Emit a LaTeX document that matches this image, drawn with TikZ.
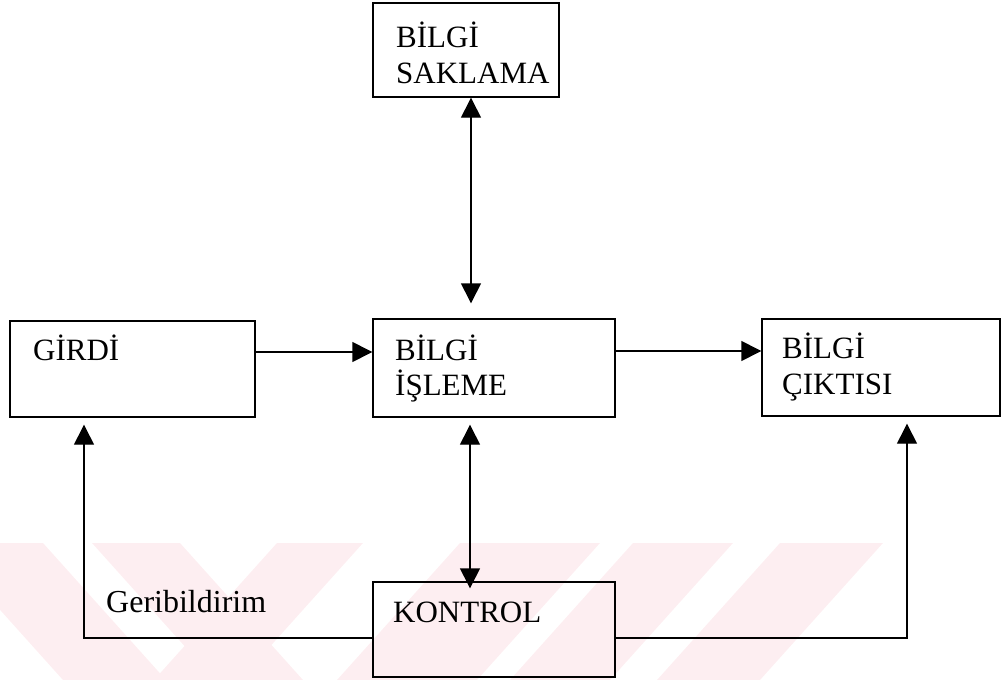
\documentclass[tikz,border=0pt]{standalone}
\usepackage{fontspec}
\setmainfont{Liberation Serif}
\usetikzlibrary{arrows.meta}
\definecolor{markpink}{RGB}{253,238,241}
\begin{document}
\begin{tikzpicture}[x=1pt,y=-1pt,
  box/.style={draw, line width=1.4pt, inner sep=0pt},
  lbl/.style={anchor=base west, inner sep=0pt, font=\fontsize{31}{36}\selectfont},
  tip/.tip={Triangle[length=20pt,width=20pt]},
  link/.style={line width=1.4pt, -tip},
  biline/.style={line width=1.4pt, tip-tip},
  band/.style={fill=markpink, draw=none}]
\useasboundingbox (0,0) rectangle (1002,680);

% faint diagonal stripes along the lower edge
\begin{scope}
  \clip (0,543) rectangle (1002,680);
  \fill[band] (-60,543) -- (43,543) -- (166,680) -- (63,680) -- cycle;
  \fill[band] (92,543) -- (180,543) -- (303,680) -- (215,680) -- cycle;
  \fill[band] (277,543) -- (363,543) -- (240,680) -- (154,680) -- cycle;
  \fill[band] (460,543) -- (600,543) -- (477,680) -- (337,680) -- cycle;
  \fill[band] (633,543) -- (733,543) -- (610,680) -- (510,680) -- cycle;
  \fill[band] (780,543) -- (883,543) -- (760,680) -- (657,680) -- cycle;
\end{scope}

% boxes
\node[box, minimum width=186pt, minimum height=94pt] (store) at (466,50) {};
\node[box, minimum width=245pt, minimum height=96pt] (input) at (132.5,369) {};
\node[box, minimum width=242pt, minimum height=98pt] (proc) at (494,368) {};
\node[box, minimum width=238pt, minimum height=97pt] (output) at (881,367.5) {};
\node[box, minimum width=242pt, minimum height=95pt] (control) at (494,629.5) {};

% box texts
\node[lbl] (storeA) at (396,47) {BİLGİ};
\node[lbl] (storeB) at (396,83) {SAKLAMA};
\node[lbl] (inputA) at (33,360) {GİRDİ};
\node[lbl] (procA) at (395,360) {BİLGİ};
\node[lbl] (procB) at (395,395) {İŞLEME};
\node[lbl] (outputA) at (782,358) {BİLGİ};
\node[lbl] (outputB) at (782,394) {ÇIKTISI};
\node[lbl] (controlA) at (393,622) {KONTROL};
\node[lbl, font=\fontsize{32}{36}\selectfont] (feedback) at (106,612) {Geribildirim};

% connectors
\draw[biline, shorten >=15pt]
  ([xshift=5pt]store.south) -- ([xshift=5pt]store.south |- proc.north);
\draw[biline, shorten <=7pt, shorten >=-7pt]
  ([xshift=-24pt]proc.south) -- ([xshift=-24pt]proc.south |- control.north);
\draw[link] ([yshift=17pt]input.east) -- ([yshift=17pt]input.east -| proc.west);
\draw[link] ([yshift=17pt]proc.east) -- ([yshift=17pt]proc.east -| output.west);
\draw[link] ([yshift=-8.5pt]control.west) -| ([xshift=-48.5pt,yshift=-7pt]input.south);
\draw[link] ([yshift=-8.5pt]control.east) -| ([xshift=26pt,yshift=-7pt]output.south);
\end{tikzpicture}
\end{document}
